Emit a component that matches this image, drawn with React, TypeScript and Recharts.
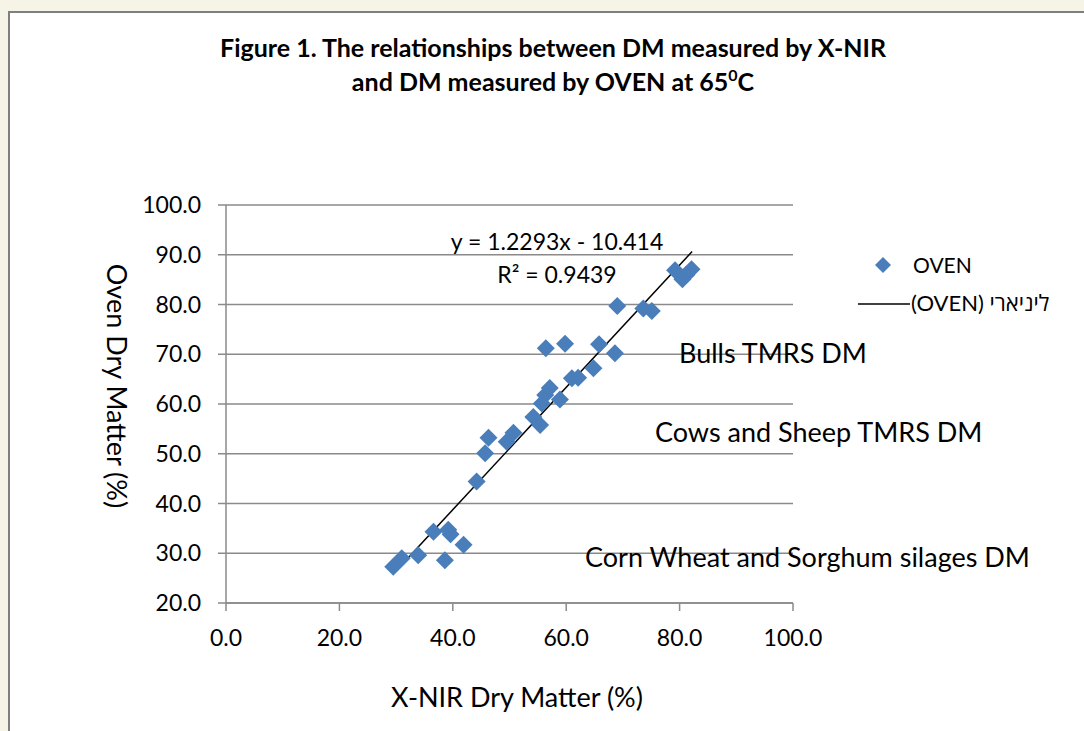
import React from 'react';
import { ScatterChart, Scatter, XAxis, YAxis, CartesianGrid, ReferenceLine } from 'recharts';

const xNir = [45.7, 46.3, 49.5, 50.7, 54.2, 55.4, 55.7, 56.3, 57.1, 58.9, 61.0, 62.1, 64.8, 56.4, 59.8, 65.8, 68.6, 69.0, 73.6, 75.1, 79.2, 80.5, 82.1, 81.2, 29.5, 31.0, 33.9, 38.6, 41.9, 36.6, 39.2, 39.6, 44.2];
const oven = [50.1, 53.2, 52.4, 54.2, 57.4, 55.8, 60.1, 61.8, 63.2, 60.9, 65.2, 65.3, 67.2, 71.2, 72.1, 72.0, 70.2, 79.7, 79.2, 78.7, 86.9, 85.1, 87.1, 86.0, 27.3, 29.0, 29.6, 28.6, 31.7, 34.3, 34.7, 33.8, 44.4];
const xTicks = [0, 20, 40, 60, 80, 100];
const yTicks = [20, 30, 40, 50, 60, 70, 80, 90, 100];
const slope = 1.2293;
const intercept = -10.414;
const trendRange = [29.6, 82.2];

const points = xNir.map((x, i) => ({ x, y: oven[i] }));
const trendSeg = trendRange.map((x) => ({ x, y: slope * x + intercept }));

const FONT = 'Lato, "Open Sans", sans-serif';
const BLUE = '#4a7ebb';
const GRID = '#8a8a8a';

const Diamond = (props: any) => {
  const { cx, cy } = props;
  const r = 9;
  return <path d={`M${cx},${cy - r}L${cx + r},${cy}L${cx},${cy + r}L${cx - r},${cy}Z`} fill={BLUE} />;
};

export default function App() {
  return (
    <div style={{ position: 'absolute', left: 0, top: 0, width: 1084, height: 731, background: '#f6f4e6', overflow: 'hidden', fontFamily: FONT }}>
      <div style={{ position: 'absolute', left: 8, top: 11, width: 1100, height: 740, background: '#ffffff', borderLeft: '2px solid #7f7f7f', borderTop: '2px solid #7f7f7f' }} />
      <div style={{ position: 'absolute', left: 0, top: 0 }}>
        <ScatterChart width={1084} height={731} margin={{ top: 205, right: 1084 - 793, bottom: 731 - 603 - 50, left: 226 - 100 }}>
          <CartesianGrid horizontal vertical={false} stroke={GRID} strokeWidth={1.5} />
          <XAxis
            type="number"
            dataKey="x"
            domain={[0, 100]}
            ticks={xTicks}
            interval={0}
            height={50}
            tickFormatter={(v: number) => v.toFixed(1)}
            tick={{ fill: '#000', fontSize: 23, fontFamily: FONT }}
            tickSize={8}
            tickMargin={19}
            axisLine={{ stroke: GRID, strokeWidth: 1.5 }}
            tickLine={{ stroke: GRID, strokeWidth: 1.5 }}
          />
          <YAxis
            type="number"
            dataKey="y"
            domain={[20, 100]}
            ticks={yTicks}
            interval={0}
            width={100}
            tickFormatter={(v: number) => v.toFixed(1)}
            tick={{ fill: '#000', fontSize: 23, fontFamily: FONT }}
            tickSize={8}
            tickMargin={17}
            axisLine={{ stroke: GRID, strokeWidth: 1.5 }}
            tickLine={{ stroke: GRID, strokeWidth: 1.5 }}
          />
          <Scatter data={points} shape={<Diamond />} isAnimationActive={false} />
          <ReferenceLine segment={trendSeg} stroke="#000" strokeWidth={1.5} ifOverflow="visible" />
        </ScatterChart>
      </div>
      <svg width={1084} height={731} style={{ position: 'absolute', left: 0, top: 0, pointerEvents: 'none' }} fontFamily={FONT}>
        <text x={553} y={57} textAnchor="middle" fontSize={25} fontWeight="bold" fill="#000">Figure 1. The relationships between DM measured by X-NIR</text>
        <text x={553} y={91} textAnchor="middle" fontSize={25} fontWeight="bold" fill="#000">
          and DM measured by OVEN at 65<tspan fontSize={16} dy={-10}>0</tspan><tspan dy={10}>C</tspan>
        </text>
        <text x={557} y={250} textAnchor="middle" fontSize={23} fill="#000">y = 1.2293x - 10.414</text>
        <text x={557} y={283} textAnchor="middle" fontSize={23} fill="#000">R² = 0.9439</text>
        <text x={679} y={363} fontSize={27} fill="#000">Bulls TMRS DM</text>
        <text x={655} y={442} fontSize={27} fill="#000">Cows and Sheep TMRS DM</text>
        <text x={585} y={567} fontSize={27} fill="#000">Corn Wheat and Sorghum silages DM</text>
        <text x={517} y={707} textAnchor="middle" fontSize={27} fill="#000">X-NIR Dry Matter (%)</text>
        <text x={0} y={0} textAnchor="middle" fontSize={27} fill="#000" transform="translate(107 386) rotate(90)">Oven Dry Matter (%)</text>
        <path d="M883,257L891,265L883,273L875,265Z" fill={BLUE} />
        <text x={913} y={273} fontSize={21} fill="#000">OVEN</text>
        <line x1={858} y1={304} x2={910} y2={304} stroke="#000" strokeWidth={1.5} />
        <text x={911} y={311} fontSize={22} fill="#000">(OVEN) ליניארי</text>
      </svg>
    </div>
  );
}
